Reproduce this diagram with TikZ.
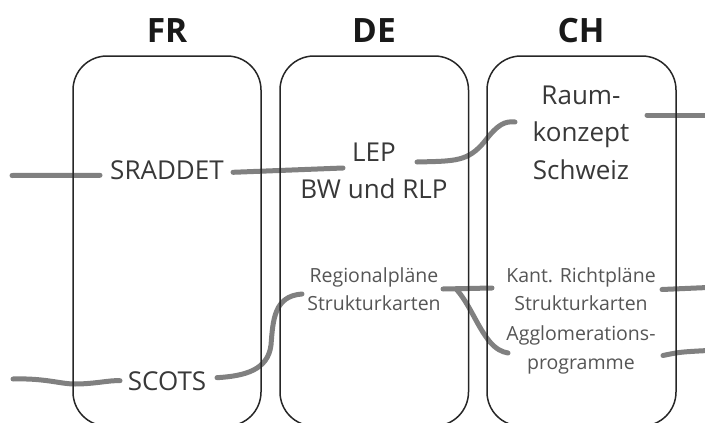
\documentclass[tikz,border=0pt]{standalone}
\usepackage{fontspec}
\setmainfont{Open Sans}
\usetikzlibrary{calc}
\definecolor{linkgray}{HTML}{808080}
\definecolor{textgray}{HTML}{383838}
\definecolor{smallgray}{HTML}{555555}

\begin{document}
\begin{tikzpicture}[x=1pt,y=-1pt,
  land/.style={draw=black!85,line width=1.5pt,rounded corners=34pt},
  title/.style={font=\bfseries\fontsize{33.5}{38}\selectfont,text=black!90,anchor=base,inner sep=0pt},
  big/.style={font=\fontsize{26}{37.5}\selectfont,text=textgray,align=center,inner sep=0pt},
  small/.style={font=\fontsize{19.5}{28.3}\selectfont,text=smallgray,align=center,inner sep=0pt},
  link/.style={draw=linkgray,line width=5pt,line cap=round}]
\useasboundingbox (0,0) rectangle (705,423);

\node[title] (fr) at (167,42.7) {FR};
\node[title] (de) at (374,42.7) {DE};
\node[title] (ch) at (581,42.7) {CH};

\node[big,anchor=base] (sraddet) at (167,179.3) {SRADDET};
\node[big,anchor=base] (scots) at (167,390.7) {SCOTS};
\node[big] (lep) at (374,171) {LEP\\BW und RLP};
\node[big] (raum) at (581,132.5) {Raum-\\konzept\\Schweiz};
\node[small] (regional) at (374,289) {Regionalpläne\\Strukturkarten};
\node[small] (kant) at (581,289) {Kant. Richtpläne\\Strukturkarten};
\node[small] (aggl) at (581,350) {Agglomerations-\\programme};

\coordinate (frin1) at (12,175.5);
\coordinate (frin2) at (13,379);
\coordinate (chout1) at (708,115);
\coordinate (chout2) at (708,287.5);
\coordinate (chout3) at (708,350.5);

% links
\draw[link] (frin1) -- ($(sraddet.base)+(-67,-4)$);
\draw[link] ($(sraddet.base)+(66,-7)$) -- ($(lep.center)+(-31,-3)$);
\draw[link] ($(lep.center)+(43,-9)$) .. controls (455,161) and (468,162) .. (485,141)
  .. controls (498,124) and (505,121) .. ($(raum.center)+(-66,-10.5)$);
\draw[link] ($(raum.center)+(66,-17.5)$) -- (chout1);
\draw[link] (frin2) .. controls (45,378) and (60,384) .. (75,384)
  .. controls (95,384) and (110,380) .. ($(scots.base)+(-47,-10)$);
\draw[link] ($(scots.base)+(50,-13)$) .. controls (245,376) and (268,370) .. (271,345)
  .. controls (273,320) and (274,296) .. ($(regional.center)+(-72,5)$);
\draw[link] ($(kant.center)+(-89,-1)$) -- ($(regional.center)+(69,0)$);
\draw[link] ($(aggl.center)+(-73,3)$) .. controls (502,352) and (496,349) .. (490,342)
  .. controls (478,328) and (470,305) .. ($(regional.center)+(83,1)$);
\draw[link] ($(kant.center)+(81,0.5)$) -- (chout2);
\draw[link] ($(aggl.center)+(82,5.5)$) .. controls (680,352) .. (chout3);

% boxes
\draw[land] (73,56) rectangle (261,426);
\draw[land] (280,56) rectangle (468.5,426);
\draw[land] (487,56) rectangle (676,426);
\end{tikzpicture}
\end{document}
